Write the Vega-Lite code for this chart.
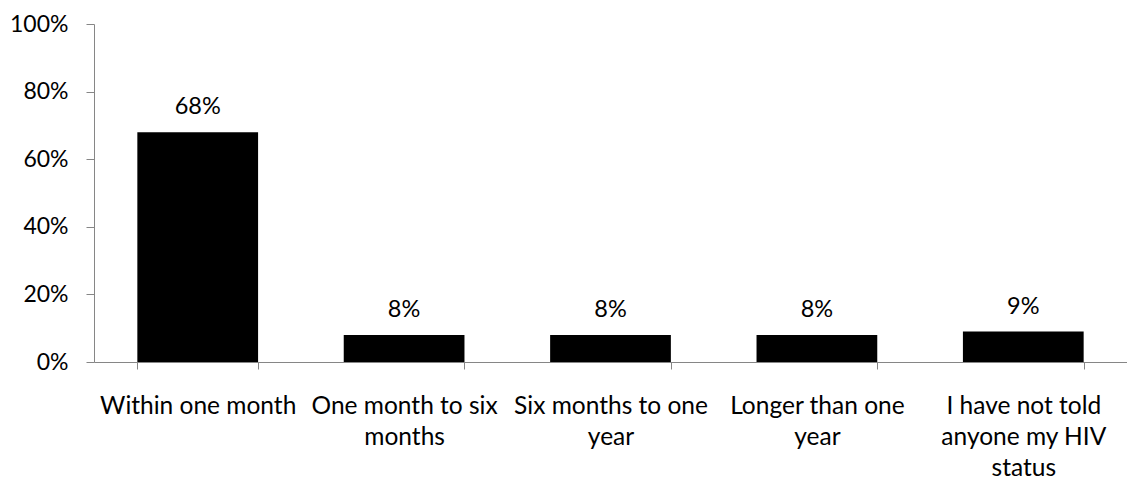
{
  "$schema": "https://vega.github.io/schema/vega-lite/v6.json",
  "autosize": "none",
  "padding": {"left": 94, "top": 24, "right": 0, "bottom": 119},
  "width": 1033,
  "height": 338,
  "background": "white",
  "config": {
    "view": {"stroke": null},
    "font": "Lato",
    "axis": {"labelFont": "Lato", "labelFontSize": 23, "labelColor": "#000000", "domainColor": "#868686", "tickColor": "#868686", "grid": false, "title": null}
  },
  "data": {
    "values": [
      {"category": "Within one month", "value": 0.68, "label": "68%"},
      {"category": "One month to six months", "value": 0.08, "label": "8%"},
      {"category": "Six months to one year", "value": 0.08, "label": "8%"},
      {"category": "Longer than one year", "value": 0.08, "label": "8%"},
      {"category": "I have not told anyone my HIV status", "value": 0.09, "label": "9%"}
    ]
  },
  "encoding": {
    "x": {
      "field": "category",
      "type": "nominal",
      "sort": null,
      "scale": {"paddingInner": 0.415, "paddingOuter": 0.21},
      "axis": {
        "labelAngle": 0,
        "tickBand": "extent",
        "tickSize": 7,
        "labelPadding": 44,
        "labelFontSize": 24.5,
        "labelBaseline": "alphabetic",
        "labelLineHeight": 31,
        "labelLimit": 0,
        "zindex": 1,
        "labelExpr": "datum.value == 'One month to six months' ? ['One month to six', 'months'] : datum.value == 'Six months to one year' ? ['Six months to one', 'year'] : datum.value == 'Longer than one year' ? ['Longer than one', 'year'] : datum.value == 'I have not told anyone my HIV status' ? ['I have not told', 'anyone my HIV', 'status'] : datum.value"
      }
    },
    "y": {
      "field": "value",
      "type": "quantitative",
      "scale": {"domain": [0, 1], "nice": false},
      "axis": {"values": [0, 0.2, 0.4, 0.6, 0.8, 1], "format": ".0%", "tickSize": 8, "labelPadding": 18, "domain": true}
    }
  },
  "layer": [
    {"mark": {"type": "bar", "color": "#000000"}},
    {"mark": {"type": "text", "fontSize": 23.5, "font": "Lato", "color": "#000000", "baseline": "alphabetic", "dy": -18}, "encoding": {"text": {"field": "label"}}}
  ]
}
